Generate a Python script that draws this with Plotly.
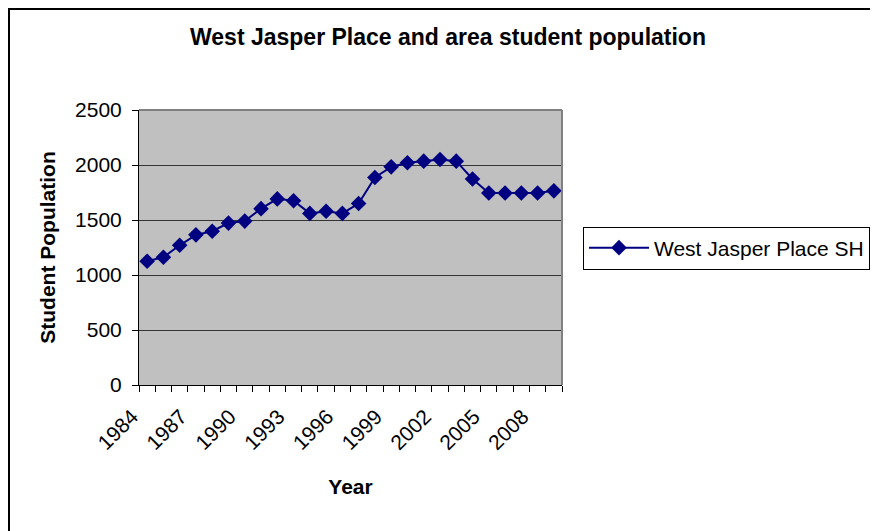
import plotly.graph_objects as go

years = list(range(1984, 2010))
population = [1125, 1162, 1270, 1365, 1398, 1472, 1490, 1603, 1692, 1675,
              1560, 1580, 1560, 1650, 1887, 1983, 2020, 2035, 2050, 2035,
              1873, 1745, 1745, 1745, 1745, 1765]
tick_years = [1984, 1987, 1990, 1993, 1996, 1999, 2002, 2005, 2008]
tick_labels = [str(y) for y in tick_years]
y_ticks = [0, 500, 1000, 1500, 2000, 2500]

FONT = "Arial, Liberation Sans, sans-serif"
OFF = 8  # page body margin
W, H = 878 - OFF, 531 - OFF
pw, ph = 423, 275
L, T = 139 - OFF, 110 - OFF
R, B = W - L - pw, H - T - ph

def px(x):
    # reference-screen x pixel -> paper coordinate
    return (x - 139) / pw

def py(y):
    # reference-screen y pixel -> paper coordinate
    return (385 - y) / ph

fig = go.Figure()
fig.add_trace(go.Scatter(
    x=years, y=population, mode="lines+markers",
    name="West Jasper Place SH",
    line=dict(color="#000080", width=2),
    marker=dict(symbol="diamond", size=12, color="#000080"),
))

fig.update_layout(
    width=W, height=H,
    margin=dict(l=L, r=R, t=T, b=B, autoexpand=False),
    paper_bgcolor="white", plot_bgcolor="#C0C0C0",
    font=dict(family=FONT, color="black", size=21),
    title=dict(text="<b>West Jasper Place and area student population</b>",
               x=(448 - OFF) / W, xref="container", xanchor="center",
               y=1 - (37 - OFF) / H, yref="container", yanchor="middle",
               font=dict(size=23)),
    showlegend=True,
    legend=dict(x=px(583), xanchor="left", y=py(248), yanchor="middle",
                bordercolor="black", borderwidth=1, bgcolor="white",
                font=dict(size=21), itemwidth=60),
    xaxis=dict(
        range=[1983.5, 2009.5], tickmode="array",
        tickvals=tick_years, ticktext=tick_labels, tickangle=-45,
        ticks="outside", ticklen=10, tickcolor="rgba(0,0,0,0)",
        ticklabelshift=-15,
        showgrid=False, zeroline=False,
        showline=True, linecolor="black", linewidth=1,
        minor=dict(tickmode="linear", tick0=1983.5, dtick=1, ticks="outside",
                   ticklen=6, tickcolor="black", showgrid=False),
        title=dict(text="<b>Year</b>", font=dict(size=21), standoff=26),
    ),
    yaxis=dict(
        range=[0, 2500], tickvals=y_ticks, ticks="outside", ticklen=6,
        tickcolor="black", ticklabelstandoff=6,
        showgrid=True, gridcolor="#333333", gridwidth=1,
        zeroline=False, showline=True, linecolor="black", linewidth=1,
        title=dict(text="<b>Student Population</b>", font=dict(size=21),
                   standoff=13),
    ),
    shapes=[
        dict(type="line", xref="paper", yref="paper", x0=0, x1=1, y0=1, y1=1,
             line=dict(color="#808080", width=2)),
        dict(type="line", xref="paper", yref="paper", x0=1, x1=1, y0=0, y1=1,
             line=dict(color="#808080", width=2)),
        dict(type="rect", xref="paper", yref="paper",
             x0=px(9), x1=px(895), y0=py(545), y1=py(9),
             line=dict(color="black", width=2)),
    ],
)

fig.write_html("out.html")
